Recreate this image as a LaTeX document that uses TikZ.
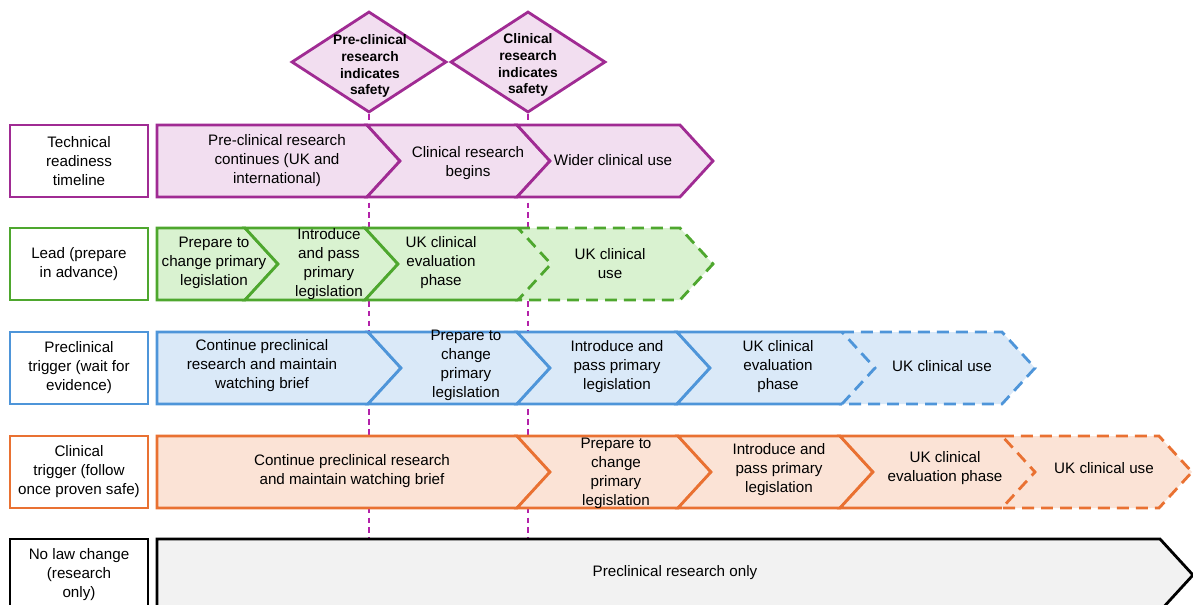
\documentclass[tikz,border=0pt]{standalone}
\usepackage{fontspec}
\setmainfont{Liberation Sans}
\usetikzlibrary{shapes.geometric}

\definecolor{plum}{HTML}{A02B93}
\definecolor{plumfill}{HTML}{F2DEF0}
\definecolor{leaf}{HTML}{4EA72E}
\definecolor{leaffill}{HTML}{D9F2D0}
\definecolor{sky}{HTML}{4E95D9}
\definecolor{skyfill}{HTML}{DAE9F8}
\definecolor{ember}{HTML}{E97132}
\definecolor{emberfill}{HTML}{FBE3D6}
\definecolor{ink}{HTML}{000000}
\definecolor{inkfill}{HTML}{F2F2F2}

\tikzset{
  txt/.style={align=center, inner sep=0pt, font=\fontsize{10.8}{13.5}\selectfont},
  lane/.style={txt, draw=#1, line width=2pt, fill=white, minimum width=3.45cm, minimum height=1.8cm},
  stage/.style={draw=#1, fill=#1fill, line width=2pt, line join=miter},
  planned/.style={stage=#1, dash pattern=on 8.5pt off 5pt},
  gate/.style={diamond, draw=plum, fill=plumfill, line width=2pt, inner sep=0pt,
    minimum width=3.875cm, minimum height=2.525cm},
  gatetext/.style={align=center, inner sep=0pt, font=\bfseries\fontsize{9.8}{12}\selectfont},
  marker/.style={plum!80!magenta, line width=0.9pt, dash pattern=on 4pt off 3pt}
}

% chevron starting flat at x=157: style, right corner, top
\newcommand{\firstchev}[3]{%
  \draw[#1] (157,#3) -- (#2,#3) -- ++(33,36) -- (#2,#3+72) -- (157,#3+72) -- cycle;}
% notched chevron: style, left corner, right corner, top
\newcommand{\nextchev}[4]{%
  \draw[#1] (#2,#4) -- (#3,#4) -- ++(33,36) -- (#3,#4+72) -- (#2,#4+72) -- ++(33,-36) -- cycle;}
% same, but the tip is left to the dashed one that follows
\newcommand{\opennextchev}[4]{%
  \path[#1, draw=none] (#2,#4) -- (#3,#4) -- ++(33,36) -- (#3,#4+72) -- (#2,#4+72) -- ++(33,-36) -- cycle;
  \draw[#1, fill=none] (#3,#4) -- (#2,#4) -- ++(33,36) -- (#2,#4+72) -- (#3,#4+72);}

\begin{document}
\begin{tikzpicture}[x=0.025cm, y=-0.025cm]
\useasboundingbox (0,0) rectangle (1193,605);
\clip (0,0) rectangle (1193,605);

% safety gates and their marker lines
\node[gate] (safe1) at (369,62) {};
\node[gate] (safe2) at (528,62) {};
\node[gatetext] (safe1t) at (370,66) {Pre-clinical\\research\\indicates\\safety};
\node[gatetext] (safe2t) at (528,65) {Clinical\\research\\indicates\\safety};
\coordinate (end1) at (369,540);
\coordinate (end2) at (528,540);
\draw[marker] (safe1.south) -- (end1);
\draw[marker] (safe2.south) -- (end2);

% lane labels
\node[lane=plum] (tech) at (79,161) {Technical\\readiness\\timeline};
\node[lane=leaf] (lead) at (79,264) {Lead (prepare\\in advance)};
\node[lane=sky] (pretrig) at (79,368) {Preclinical\\trigger (wait for\\evidence)};
\node[lane=ember] (clintrig) at (79,472) {Clinical\\trigger (follow\\once proven safe)};
\node[lane=black] (nochange) at (79,575) {No law change\\(research\\only)};

% technical readiness
\firstchev{stage=plum}{367}{125}
\nextchev{stage=plum}{367}{517}{125}
\nextchev{stage=plum}{517}{680}{125}
\node[txt] (tech1) at (277,161) {Pre-clinical research\\continues (UK and\\international)};
\node[txt] (tech2) at (468,163) {Clinical research\\begins};
\node[txt] (tech3) at (613,160) {Wider clinical use};

% lead
\firstchev{stage=leaf}{245}{228}
\nextchev{stage=leaf}{245}{365}{228}
\opennextchev{stage=leaf}{365}{518}{228}
\nextchev{planned=leaf}{518}{680}{228}
\node[txt] (lead1) at (214,263) {Prepare to\\change primary\\legislation};
\node[txt] (lead2) at (329,264) {Introduce\\and pass\\primary\\legislation};
\node[txt] (lead3) at (441,263) {UK clinical\\evaluation\\phase};
\node[txt] (lead4) at (610,264) {UK clinical\\use};

% preclinical trigger
\firstchev{stage=sky}{368}{332}
\nextchev{stage=sky}{368}{517}{332}
\nextchev{stage=sky}{517}{677}{332}
\opennextchev{stage=sky}{677}{842}{332}
\nextchev{planned=sky}{842}{1002}{332}
\node[txt] (pre1) at (262,366) {Continue preclinical\\research and maintain\\watching brief};
\node[txt] (pre2) at (466,365) {Prepare to\\change\\primary\\legislation};
\node[txt] (pre3) at (617,367) {Introduce and\\pass primary\\legislation};
\node[txt] (pre4) at (778,367) {UK clinical\\evaluation\\phase};
\node[txt] (pre5) at (942,366) {UK clinical use};

% clinical trigger
\firstchev{stage=ember}{517}{436}
\nextchev{stage=ember}{517}{678}{436}
\nextchev{stage=ember}{678}{840}{436}
\opennextchev{stage=ember}{840}{1002}{436}
\nextchev{planned=ember}{1002}{1159}{436}
\node[txt] (clin1) at (352,471) {Continue preclinical research\\and maintain watching brief};
\node[txt] (clin2) at (616,473) {Prepare to\\change\\primary\\legislation};
\node[txt] (clin3) at (779,470) {Introduce and\\pass primary\\legislation};
\node[txt] (clin4) at (945,468) {UK clinical\\evaluation phase};
\node[txt] (clin5) at (1104,468) {UK clinical use};

% no law change
\firstchev{stage=ink}{1160}{539}
\node[txt] (none1) at (675,573) {Preclinical research only};
\end{tikzpicture}
\end{document}
